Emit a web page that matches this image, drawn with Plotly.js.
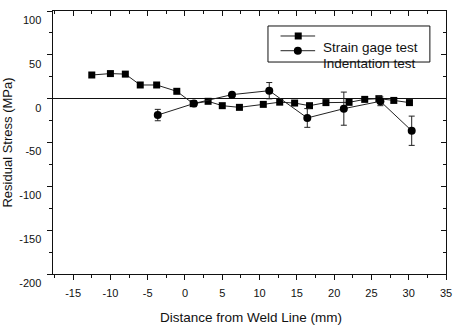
<!DOCTYPE html>
<html>
<head>
<meta charset="utf-8">
<script src="https://cdn.plot.ly/plotly-3.0.1.min.js"></script>
<style>html,body{margin:0;padding:0;background:#fff;}#chart{width:455px;height:326px;}</style>
</head>
<body>
<div id="chart"></div>
<script>
// Strain gage test (squares)
const strainX = [-12.5, -10, -8, -6, -3.8, -1.1, 1.1, 3.1, 5, 7.3, 10.5, 12.7, 14.7, 16.7, 18.9, 22.0, 24.1, 26.0, 28.0, 30.1];
const strainY = [27, 28.6, 28, 15.6, 15.6, 8.4, -5.7, -3, -8, -9.9, -6.5, -4, -5, -8, -4.5, -4.2, -0.8, 0, -2, -4.5];
// Indentation test (circles) with error bars
const indentX = [-3.65, 1.2, 6.3, 11.3, 16.4, 21.3, 26.2, 30.4];
const indentY = [-18.7, -5.5, 4.6, 9.1, -22, -11.4, -3, -36.6];
const indentErr = [6.5, 0, 0, 9.3, 10.7, 18.9, 5, 16.7];
const xTickVals = [-15, -10, -5, 0, 5, 10, 15, 20, 25, 30, 35];
const xTickText = ['-15', '-10', '-5', '0', '5', '10', '15', '20', '25', '30', '35'];
const yTickVals = [-200, -150, -100, -50, 0, 50, 100];
const yTickText = ['-200', '-150', '-100', '-50', '0', '50', '100'];

const font = {family: 'Liberation Sans, Arial, sans-serif', color: '#111'};

const traces = [
  {x: strainX, y: strainY, type: 'scatter', mode: 'lines+markers', name: 'Strain gage test',
   line: {color: '#222', width: 1}, marker: {symbol: 'square', size: 7, color: '#000'}},
  {x: indentX, y: indentY, type: 'scatter', mode: 'lines+markers', name: 'Indentation test',
   line: {color: '#222', width: 1}, marker: {symbol: 'circle', size: 8, color: '#000'},
   error_y: {type: 'data', array: indentErr, visible: true, color: '#222', thickness: 1, width: 3}},
  // empty helper trace so the top/right mirror axes get drawn
  {x: [null], y: [null], xaxis: 'x2', yaxis: 'y2', type: 'scatter', mode: 'markers', hoverinfo: 'skip', showlegend: false}
];

// Legend drawn as shapes/annotations (text offset as in the original)
const shapes = [
  {type: 'rect', xref: 'paper', yref: 'paper', x0: 0.547, x1: 0.959, y0: 0.806, y1: 0.943, line: {color: '#111', width: 1}},
  {type: 'line', xref: 'paper', yref: 'paper', x0: 0.579, x1: 0.667, y0: 0.905, y1: 0.905, line: {color: '#222', width: 1}},
  {type: 'line', xref: 'paper', yref: 'paper', x0: 0.579, x1: 0.667, y0: 0.849, y1: 0.849, line: {color: '#222', width: 1}},
  {type: 'rect', xref: 'paper', yref: 'paper', xsizemode: 'pixel', ysizemode: 'pixel', xanchor: 0.624, yanchor: 0.905,
   x0: -3.5, x1: 3.5, y0: -3.5, y1: 3.5, fillcolor: '#000', line: {width: 0}},
  {type: 'circle', xref: 'paper', yref: 'paper', xsizemode: 'pixel', ysizemode: 'pixel', xanchor: 0.623, yanchor: 0.849,
   x0: -4, x1: 4, y0: -4, y1: 4, fillcolor: '#000', line: {width: 0}}
];
const annotations = [
  {xref: 'paper', yref: 'paper', x: 0.681, y: 0.862, xanchor: 'left', yanchor: 'middle', showarrow: false,
   text: 'Strain gage test', font: Object.assign({size: 13.5}, font)},
  {xref: 'paper', yref: 'paper', x: 0.681, y: 0.801, xanchor: 'left', yanchor: 'middle', showarrow: false,
   text: 'Indentation test', font: Object.assign({size: 13.5}, font)},
  // x-axis title, placed low near the bottom edge as in the original
  {xref: 'paper', yref: 'paper', x: 0.505, y: 0, xanchor: 'center', yanchor: 'top', yshift: -34, showarrow: false,
   text: 'Distance from Weld Line (mm)', font: Object.assign({size: 13.5}, font)}
];

const layout = {
  width: 455, height: 326,
  margin: {l: 53, r: 9, t: 11, b: 52, pad: 0},
  paper_bgcolor: '#fff', plot_bgcolor: '#fff',
  showlegend: false,
  font: font,
  xaxis: {
    range: [-17.7, 35], tickvals: xTickVals, ticktext: xTickText, ticks: 'outside', ticklen: 5, tickcolor: '#111',
    showgrid: false, zeroline: false, showline: true, linecolor: '#111', linewidth: 1,
    tickfont: Object.assign({size: 11}, font), ticklabelstandoff: 4,
    minor: {dtick: 2.5, tick0: 0, ticks: 'outside', ticklen: 3, tickcolor: '#111', showgrid: false}
  },
  yaxis: {
    range: [-200, 100], tickvals: yTickVals, ticktext: yTickText, ticks: 'outside', ticklen: 5, tickcolor: '#111',
    showgrid: false, zeroline: true, zerolinecolor: '#111', zerolinewidth: 1.5,
    showline: true, linecolor: '#111', linewidth: 1.5,
    tickfont: Object.assign({size: 11}, font), ticklabelshift: 9, ticklabelstandoff: 3,
    minor: {dtick: 25, tick0: 0, ticks: 'outside', ticklen: 3, tickcolor: '#111', showgrid: false},
    title: {text: 'Residual Stress (MPa)', font: Object.assign({size: 13}, font), standoff: 4}
  },
  xaxis2: {
    overlaying: 'x', anchor: 'y2', side: 'top', range: [-17.7, 35], tickvals: xTickVals,
    ticks: 'inside', ticklen: 5, tickcolor: '#111', showticklabels: false,
    showgrid: false, zeroline: false, showline: true, linecolor: '#111', linewidth: 1,
    minor: {dtick: 2.5, tick0: 0, ticks: 'inside', ticklen: 3, tickcolor: '#111', showgrid: false}
  },
  yaxis2: {
    overlaying: 'y', anchor: 'x2', side: 'right', range: [-200, 100], tickvals: yTickVals,
    ticks: 'inside', ticklen: 5, tickcolor: '#111', showticklabels: false,
    showgrid: false, zeroline: false, showline: true, linecolor: '#111', linewidth: 1,
    minor: {dtick: 25, tick0: 0, ticks: 'inside', ticklen: 3, tickcolor: '#111', showgrid: false}
  },
  shapes: shapes,
  annotations: annotations
};

Plotly.newPlot('chart', traces, layout, {displayModeBar: false, staticPlot: true});
</script>
</body>
</html>
